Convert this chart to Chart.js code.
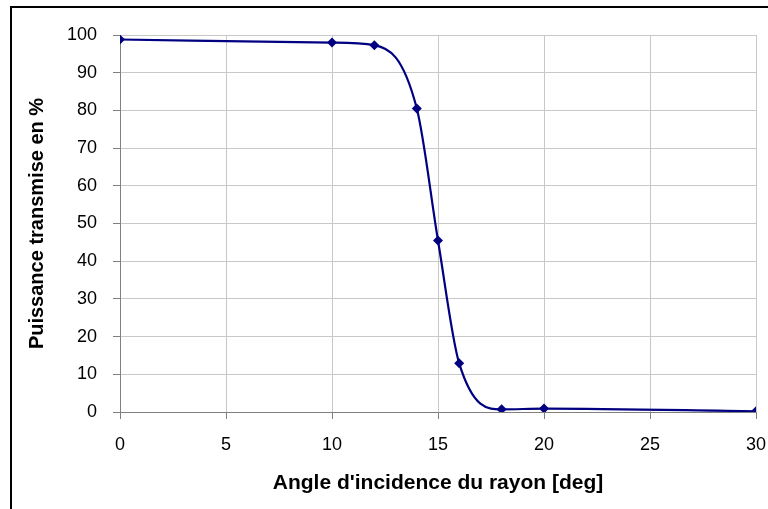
<!DOCTYPE html>
<html>
<head>
<meta charset="utf-8">
<style>
  html, body { margin: 0; padding: 0; background: #fff; }
  #wrap { position: relative; width: 768px; height: 509px; }
</style>
</head>
<body>
<div id="wrap"><canvas id="transmission-chart" width="768" height="509"></canvas></div>
<script src="https://cdn.jsdelivr.net/npm/chart.js@4/dist/chart.umd.min.js"></script>
<script>
// angle of incidence (deg) and transmitted power (%)
var angles = [0, 10, 12, 14, 15, 16, 18, 20, 30];
var transmitted = [98.8, 98.0, 97.3, 80.5, 45.5, 12.9, 0.7, 0.9, 0.2];

var xTicks = [0, 5, 10, 15, 20, 25, 30];
var yTicks = [0, 10, 20, 30, 40, 50, 60, 70, 80, 90, 100];

var navy = '#000080';
var gridGray = '#c8c8c8';
var axisGray = '#808080';
var tickFont = { family: '"Liberation Sans", Arial, sans-serif', size: 18 };

// black frame round the chart object
var framePlugin = {
  id: 'frame',
  beforeDraw: function (chart) {
    var ctx = chart.ctx;
    ctx.save();
    ctx.fillStyle = '#fff';
    ctx.fillRect(0, 0, chart.width, chart.height);
    ctx.strokeStyle = '#000';
    ctx.lineWidth = 2;
    ctx.beginPath();
    ctx.moveTo(11, chart.height);
    ctx.lineTo(11, 7);
    ctx.lineTo(chart.width, 7);
    ctx.stroke();
    ctx.restore();
  }
};

var points = angles.map(function (a, i) { return { x: a, y: transmitted[i] }; });

new Chart(document.getElementById('transmission-chart'), {
  type: 'line',
  data: {
    datasets: [{
      label: 'Puissance transmise',
      data: points,
      borderColor: navy,
      backgroundColor: navy,
      borderWidth: 2.2,
      pointStyle: 'rectRot',
      pointRadius: 5,
      pointBorderWidth: 0,
      pointBackgroundColor: navy,
      cubicInterpolationMode: 'monotone',
      fill: false
    }]
  },
  options: {
    responsive: false,
    animation: false,
    layout: { padding: { left: 12, right: 12, top: 35, bottom: 0 } },
    plugins: {
      legend: { display: false },
      tooltip: { enabled: false }
    },
    scales: {
      x: {
        type: 'linear',
        min: 0,
        max: 30,
        afterBuildTicks: function (scale) {
          scale.ticks = xTicks.map(function (v) { return { value: v }; });
        },
        afterFit: function (scale) {
          scale.height = 97;
          scale.paddingLeft = 0;
          scale.paddingRight = 0;
        },
        grid: { color: gridGray, tickColor: axisGray, tickLength: 7, lineWidth: 1 },
        border: { color: axisGray, width: 1 },
        ticks: { color: '#000', font: tickFont, padding: 15, maxRotation: 0 },
        title: {
          display: true,
          text: "Angle d'incidence du rayon [deg]",
          color: '#000',
          font: { family: '"Liberation Sans", Arial, sans-serif', size: 21, weight: 'bold' },
          padding: { top: 0, bottom: 13 }
        }
      },
      y: {
        min: 0,
        max: 100,
        afterBuildTicks: function (scale) {
          scale.ticks = yTicks.map(function (v) { return { value: v }; });
        },
        afterFit: function (scale) {
          scale.width = 108;
          scale.paddingTop = 0;
          scale.paddingBottom = 0;
        },
        grid: { color: gridGray, tickColor: axisGray, tickLength: 7, lineWidth: 1 },
        border: { color: axisGray, width: 1 },
        ticks: { color: '#000', font: tickFont, padding: 16 },
        title: {
          display: true,
          text: 'Puissance transmise en %',
          color: '#000',
          font: { family: '"Liberation Sans", Arial, sans-serif', size: 20, weight: 'bold' },
          padding: { top: 13, bottom: 0 }
        }
      }
    }
  },
  plugins: [framePlugin]
});
</script>
</body>
</html>
